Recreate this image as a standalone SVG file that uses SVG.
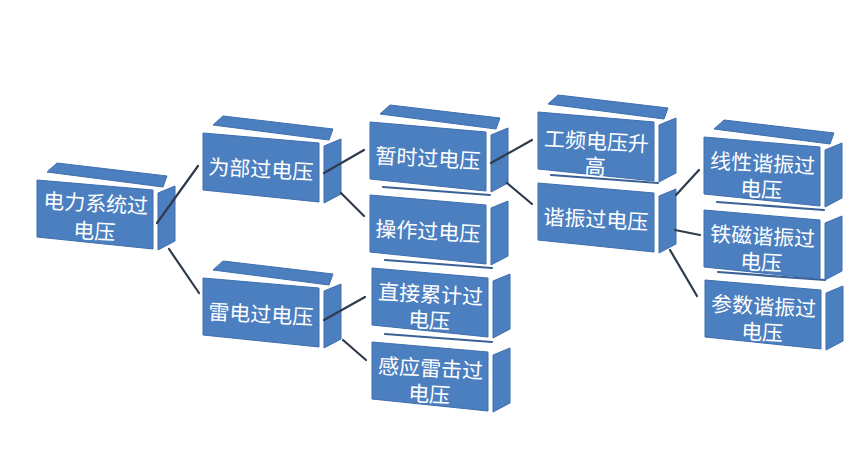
<svg xmlns="http://www.w3.org/2000/svg" width="859" height="450" viewBox="0 0 859 450">
<defs>
<style>
.f{fill:#4C7FC0;stroke:#3E6EAD;stroke-width:1;stroke-linejoin:round}
.strip{fill:none;stroke:#3A6197;stroke-width:2.2;stroke-linecap:round}
.t{font-family:"Noto Sans CJK SC","Noto Sans",sans-serif;font-size:21px;fill:#ffffff;text-anchor:middle;dominant-baseline:central}
.c{stroke:#2E3B4C;stroke-width:2.2;fill:none;stroke-linecap:round}
</style>
<path id="front" class="f" d="M0,0 L116,10 L116,69 L0,57 Z"/>
<path id="side" class="f" d="M121,13 L138,6 L138,61 L121,70 Z"/>
<path id="top" class="f" d="M10,-8 L20,-17 L130,-4 L126,7 Z"/>
<path id="strip" class="strip" d="M13,-8 L120,0"/>
</defs>
<rect width="859" height="450" fill="#ffffff"/>

<g id="n12" transform="translate(705,280)">
<use href="#strip"/><use href="#front"/><use href="#side"/>
<text class="t" transform="rotate(3 58 38)"><tspan x="58" y="25">参数谐振过</tspan><tspan x="58" y="51">电压</tspan></text>
</g>
<g id="n11" transform="translate(704,210)">
<use href="#strip"/><use href="#front"/><use href="#side"/>
<text class="t" transform="rotate(3 58 38)"><tspan x="58" y="25">铁磁谐振过</tspan><tspan x="58" y="51">电压</tspan></text>
</g>
<g id="n10" transform="translate(704,137)">
<use href="#top"/><use href="#front"/><use href="#side"/>
<text class="t" transform="rotate(3 58 38)"><tspan x="58" y="25">线性谐振过</tspan><tspan x="58" y="51">电压</tspan></text>
</g>

<g id="n9" transform="translate(538,183)">
<use href="#strip"/><use href="#front"/><use href="#side"/>
<text class="t" x="58" y="35" transform="rotate(3 58 35)">谐振过电压</text>
</g>
<g id="n8" transform="translate(538,112)">
<use href="#top"/><use href="#front"/><use href="#side"/>
<text class="t" transform="rotate(3 58 40)"><tspan x="58" y="28">工频电压升</tspan><tspan x="58" y="53">高</tspan></text>
</g>

<g id="n7" transform="translate(372,342)">
<use href="#strip"/><use href="#front"/><use href="#side"/>
<text class="t" transform="rotate(3 58 38)"><tspan x="58" y="25">感应雷击过</tspan><tspan x="58" y="51">电压</tspan></text>
</g>
<g id="n6" transform="translate(372,268)">
<use href="#strip"/><use href="#front"/><use href="#side"/>
<text class="t" transform="rotate(3 58 38)"><tspan x="58" y="25">直接累计过</tspan><tspan x="58" y="51">电压</tspan></text>
</g>
<g id="n5" transform="translate(370,195)">
<use href="#strip"/><use href="#front"/><use href="#side"/>
<text class="t" x="58" y="35" transform="rotate(3 58 35)">操作过电压</text>
</g>
<g id="n4" transform="translate(370,122)">
<use href="#top"/><use href="#front"/><use href="#side"/>
<text class="t" x="58" y="35" transform="rotate(3 58 35)">暂时过电压</text>
</g>

<g id="n3" transform="translate(203,278)">
<use href="#top"/><use href="#front"/><use href="#side"/>
<text class="t" x="58" y="35" transform="rotate(3 58 35)">雷电过电压</text>
</g>
<g id="n2" transform="translate(203,133)">
<use href="#top"/><use href="#front"/><use href="#side"/>
<text class="t" x="58" y="35" transform="rotate(3 58 35)">为部过电压</text>
</g>
<g id="n1" transform="translate(37,180)">
<use href="#top"/><use href="#front"/><use href="#side"/>
<text class="t" transform="rotate(3 58 38)"><tspan x="58" y="22">电力系统过</tspan><tspan x="58" y="50">电压</tspan></text>
</g>

<g id="connectors">
<line class="c" x1="157" y1="223" x2="198" y2="166"/>
<line class="c" x1="169" y1="249" x2="199" y2="293"/>
<line class="c" x1="324" y1="173" x2="364" y2="150"/>
<line class="c" x1="341" y1="193" x2="364" y2="216"/>
<line class="c" x1="324" y1="320" x2="365" y2="297"/>
<line class="c" x1="343" y1="340" x2="366" y2="360"/>
<line class="c" x1="491" y1="163" x2="532" y2="140"/>
<line class="c" x1="507" y1="183" x2="532" y2="204"/>
<line class="c" x1="676" y1="195" x2="699" y2="170"/>
<line class="c" x1="675" y1="230" x2="700" y2="235"/>
<line class="c" x1="670" y1="250" x2="697" y2="296"/>
</g>
</svg>
